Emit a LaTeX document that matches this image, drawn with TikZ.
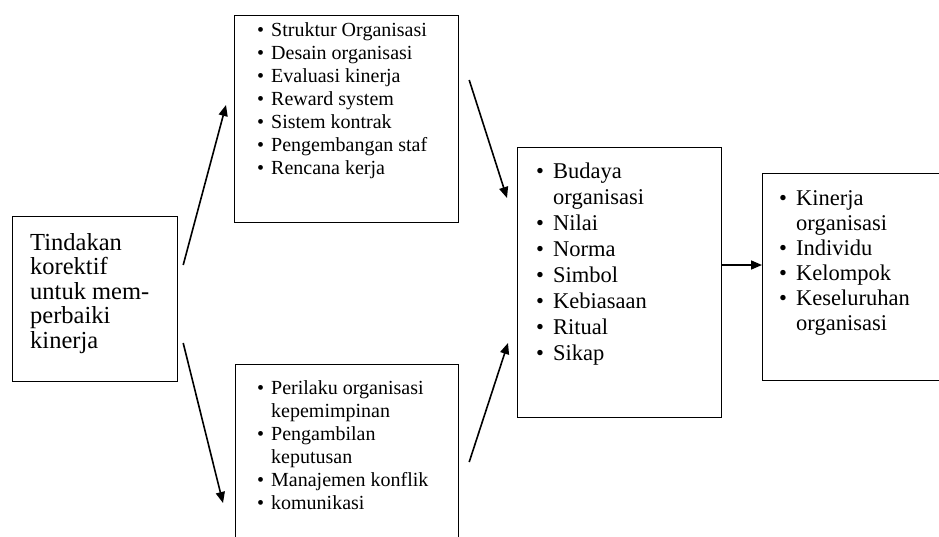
\documentclass[tikz,border=0pt]{standalone}
\usepackage{fontspec}
\setmainfont{Liberation Serif}
\usepackage{tikz}
\usetikzlibrary{calc}
\usetikzlibrary{arrows.meta}

\newlength{\bw}
\newcommand{\itm}{\makebox[\bw][l]{\textbullet}}
\newcommand{\cnt}{\hspace*{\bw}}
\newcommand{\smallfnt}{\fontsize{20}{23}\selectfont\setlength{\bw}{14pt}}
\newcommand{\bigfnt}{\fontsize{22.5}{26}\selectfont\setlength{\bw}{17pt}}

\tikzset{
  box/.style={draw, line width=1.2pt, anchor=north west, inner sep=0pt},
  txt/.style={anchor=base west, inner sep=0pt},
  arr/.style={-{Triangle[length=11pt,width=9pt]}, line width=1.6pt}
}

\begin{document}
\begin{tikzpicture}[x=1pt,y=-1pt]
	\useasboundingbox (0,0) rectangle (939,536);
	\clip (0,0) rectangle (939,536);
	% boxes
	\node[box, minimum width=165pt, minimum height=165pt] (korektif) at (12,216) {};
	\node[box, minimum width=224pt, minimum height=207pt] (org) at (234,15) {};
	\node[box, minimum width=223pt, minimum height=200pt] (perilaku) at (235,364) {};
	\node[box, minimum width=204pt, minimum height=270pt] (budaya) at (517,147) {};
	\node[box, minimum width=200pt, minimum height=207pt] (kinerja) at (762,173) {};
	% texts
	\node[txt, font=\fontsize{24.5}{24.5}\selectfont] (t1) at (30,250) {\begin{tabular}[t]{@{}l@{}}
		Tindakan\\ korektif\\ untuk mem-\\ perbaiki\\ kinerja
	\end{tabular}};
	\node[txt, font=\smallfnt] (t2) at (257,36) {\begin{tabular}[t]{@{}l@{}}
		\itm Struktur Organisasi\\
		\itm Desain organisasi\\
		\itm Evaluasi kinerja\\
		\itm Reward system\\
		\itm Sistem kontrak\\
		\itm Pengembangan staf\\
		\itm Rencana kerja
	\end{tabular}};
	\node[txt, font=\smallfnt] (t3) at (257,394) {\begin{tabular}[t]{@{}l@{}}
		\itm Perilaku organisasi\\
		\cnt kepemimpinan\\
		\itm Pengambilan\\
		\cnt keputusan\\
		\itm Manajemen konflik\\
		\itm komunikasi
	\end{tabular}};
	\node[txt, font=\bigfnt] (t4) at (536,178) {\begin{tabular}[t]{@{}l@{}}
		\itm Budaya\\
		\cnt organisasi\\
		\itm Nilai\\
		\itm Norma\\
		\itm Simbol\\
		\itm Kebiasaan\\
		\itm Ritual\\
		\itm Sikap
	\end{tabular}};
	\node[txt, font=\bigfnt\fontsize{22.5}{25}\selectfont] (t5) at (779,205) {\begin{tabular}[t]{@{}l@{}}
		\itm Kinerja\\
		\cnt organisasi\\
		\itm Individu\\
		\itm Kelompok\\
		\itm Keseluruhan\\
		\cnt organisasi
	\end{tabular}};
	% arrows
	\draw[arr] ($(korektif.north east)+(5,49)$) -- ($(org.north west)+(-8,90)$);
	\draw[arr] ($(korektif.north east)+(5,127)$) -- ($(perilaku.north west)+(-12,139)$);
	\draw[arr] ($(org.north east)+(10,65)$) -- ($(budaya.north west)+(-10,51)$);
	\draw[arr] ($(perilaku.north east)+(10,98)$) -- ($(budaya.north west)+(-9,196)$);
	\draw[arr] ($(budaya.north east)+(0,118)$) -- ($(kinerja.north west)+(0,92)$);
\end{tikzpicture}
\end{document}
